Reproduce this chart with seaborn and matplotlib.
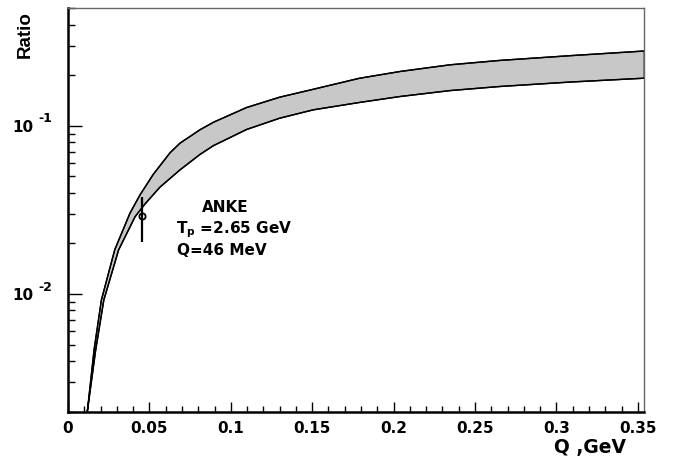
import matplotlib
matplotlib.use('Agg')
import matplotlib.pyplot as plt
import matplotlib.ticker as mticker
import seaborn as sns
import numpy as np

# band edges (Q in GeV, ratio)
q_upper = [0.0119, 0.0140, 0.0160, 0.0205, 0.0287, 0.0381, 0.0442, 0.0524, 0.0627,
           0.0688, 0.0811, 0.0893, 0.1097, 0.130, 0.1507, 0.179, 0.204, 0.2346,
           0.265, 0.308, 0.354]
r_upper = [0.00201, 0.00308, 0.00464, 0.0092, 0.0183, 0.0303, 0.0388, 0.0515, 0.0692,
           0.0789, 0.0948, 0.105, 0.1285, 0.148, 0.165, 0.1918, 0.2105, 0.2306,
           0.2448, 0.2612, 0.2786]

q_lower = [0.0119, 0.0145, 0.0170, 0.0220, 0.0311, 0.0412, 0.0473, 0.0565, 0.0688,
           0.0811, 0.0893, 0.1097, 0.130, 0.1507, 0.179, 0.204, 0.2346, 0.265,
           0.308, 0.354]
r_lower = [0.00201, 0.00308, 0.00464, 0.0092, 0.0183, 0.0288, 0.0343, 0.0432, 0.0547,
           0.0676, 0.0762, 0.0951, 0.111, 0.1245, 0.1377, 0.1494, 0.162, 0.1713,
           0.182, 0.192]

# ANKE point
anke_q = [0.0455]
anke_r = [0.029]
anke_lo = [0.0085]
anke_hi = [0.0087]

x_ticks = [0, 0.05, 0.1, 0.15, 0.2, 0.25, 0.3, 0.35]
x_labels = ['0', '0.05', '0.1', '0.15', '0.2', '0.25', '0.3', '0.35']
y_ticks = [0.01, 0.1]
y_labels = ['10', '10']
y_powers = ['-2', '-1']

sns.set_style('ticks')
plt.rcParams['font.family'] = ['DejaVu Sans']
plt.rcParams['font.weight'] = 'bold'
plt.rcParams['text.color'] = 'black'
plt.rcParams['xtick.color'] = 'black'
plt.rcParams['ytick.color'] = 'black'
plt.rcParams['axes.labelcolor'] = 'black'
plt.rcParams['mathtext.fontset'] = 'custom'
plt.rcParams['mathtext.rm'] = 'DejaVu Sans:bold'
plt.rcParams['mathtext.bf'] = 'DejaVu Sans:bold'
plt.rcParams['mathtext.default'] = 'bf'

fig = plt.figure(figsize=(6.73, 4.59), dpi=100)
ax = fig.add_axes([68 / 673, 1 - 411.5 / 459, (644 - 68) / 673, (411.5 - 8.3) / 459])

# shaded band
poly_q = q_upper + q_lower[::-1]
poly_r = r_upper + r_lower[::-1]
ax.fill(poly_q, poly_r, facecolor='#c8c8c8', edgecolor='black', linewidth=1.0, zorder=1)
sns.lineplot(x=q_upper, y=r_upper, color='black', linewidth=1.0, sort=False, ax=ax, zorder=2)
sns.lineplot(x=q_lower, y=r_lower, color='black', linewidth=1.0, sort=False, ax=ax, zorder=2)

ax.errorbar(anke_q, anke_r, yerr=[anke_lo, anke_hi], fmt='o', markersize=4.5,
            markerfacecolor='none', markeredgecolor='black', markeredgewidth=1.3,
            ecolor='black', elinewidth=1.6, capsize=0, zorder=3)

ax.set_yscale('log')
ax.set_xlim(0, 0.3538)
ax.set_ylim(0.002, 0.5)

ax.set_xticks(x_ticks)
ax.set_xticklabels(x_labels)
ax.xaxis.set_minor_locator(mticker.MultipleLocator(0.01))
ax.set_yticks(y_ticks)
ax.set_yticklabels(y_labels)
ax.yaxis.set_minor_locator(mticker.LogLocator(base=10, subs=np.arange(2, 10)))
ax.yaxis.set_minor_formatter(mticker.NullFormatter())

ax.tick_params(axis='x', which='major', direction='in', length=7, width=1, pad=7,
               labelsize=11)
ax.tick_params(axis='x', which='minor', direction='in', length=4, width=1)
ax.tick_params(axis='y', which='major', direction='in', length=10, width=1, pad=25,
               labelsize=11)
ax.tick_params(axis='y', which='minor', direction='in', length=5, width=1)
ax.tick_params(top=False, right=False, which='both')

# exponents of the y labels
for yv, pw in zip(y_ticks, y_powers):
    ax.annotate(pw, xy=(0, yv), xycoords=('axes fraction', 'data'),
                xytext=(-21, 5), textcoords='offset points', ha='left', va='center',
                fontsize=9, fontweight='bold', annotation_clip=False)

ax.spines['left'].set_linewidth(1.8)
ax.spines['bottom'].set_linewidth(1.8)
ax.spines['left'].set_color('black')
ax.spines['bottom'].set_color('black')
ax.spines['top'].set_linewidth(1.0)
ax.spines['right'].set_linewidth(1.0)
ax.spines['top'].set_color('#666666')
ax.spines['right'].set_color('#666666')

ax.set_xlabel('')
ax.set_ylabel('')

ax.text(0.0964, 0.0309, 'ANKE', fontsize=11, fontweight='bold', ha='center', va='baseline')
ax.text(0.0663, 0.0231, r'T$_{\rm p}$ =2.65 GeV', fontsize=11, fontweight='bold',
        ha='left', va='baseline')
ax.text(0.0670, 0.0171, 'Q=46 MeV', fontsize=11, fontweight='bold', ha='left', va='baseline')

fig.text(25 / 673, 1 - 11 / 459, 'Ratio', rotation=90, fontsize=13.5, fontweight='bold',
         family='Liberation Sans', ha='center', va='top')
fig.text(590 / 673, 1 - 448 / 459, 'Q ,GeV', fontsize=13.5, fontweight='bold',
         ha='center', va='center')

fig.savefig('out.png', dpi=100)
